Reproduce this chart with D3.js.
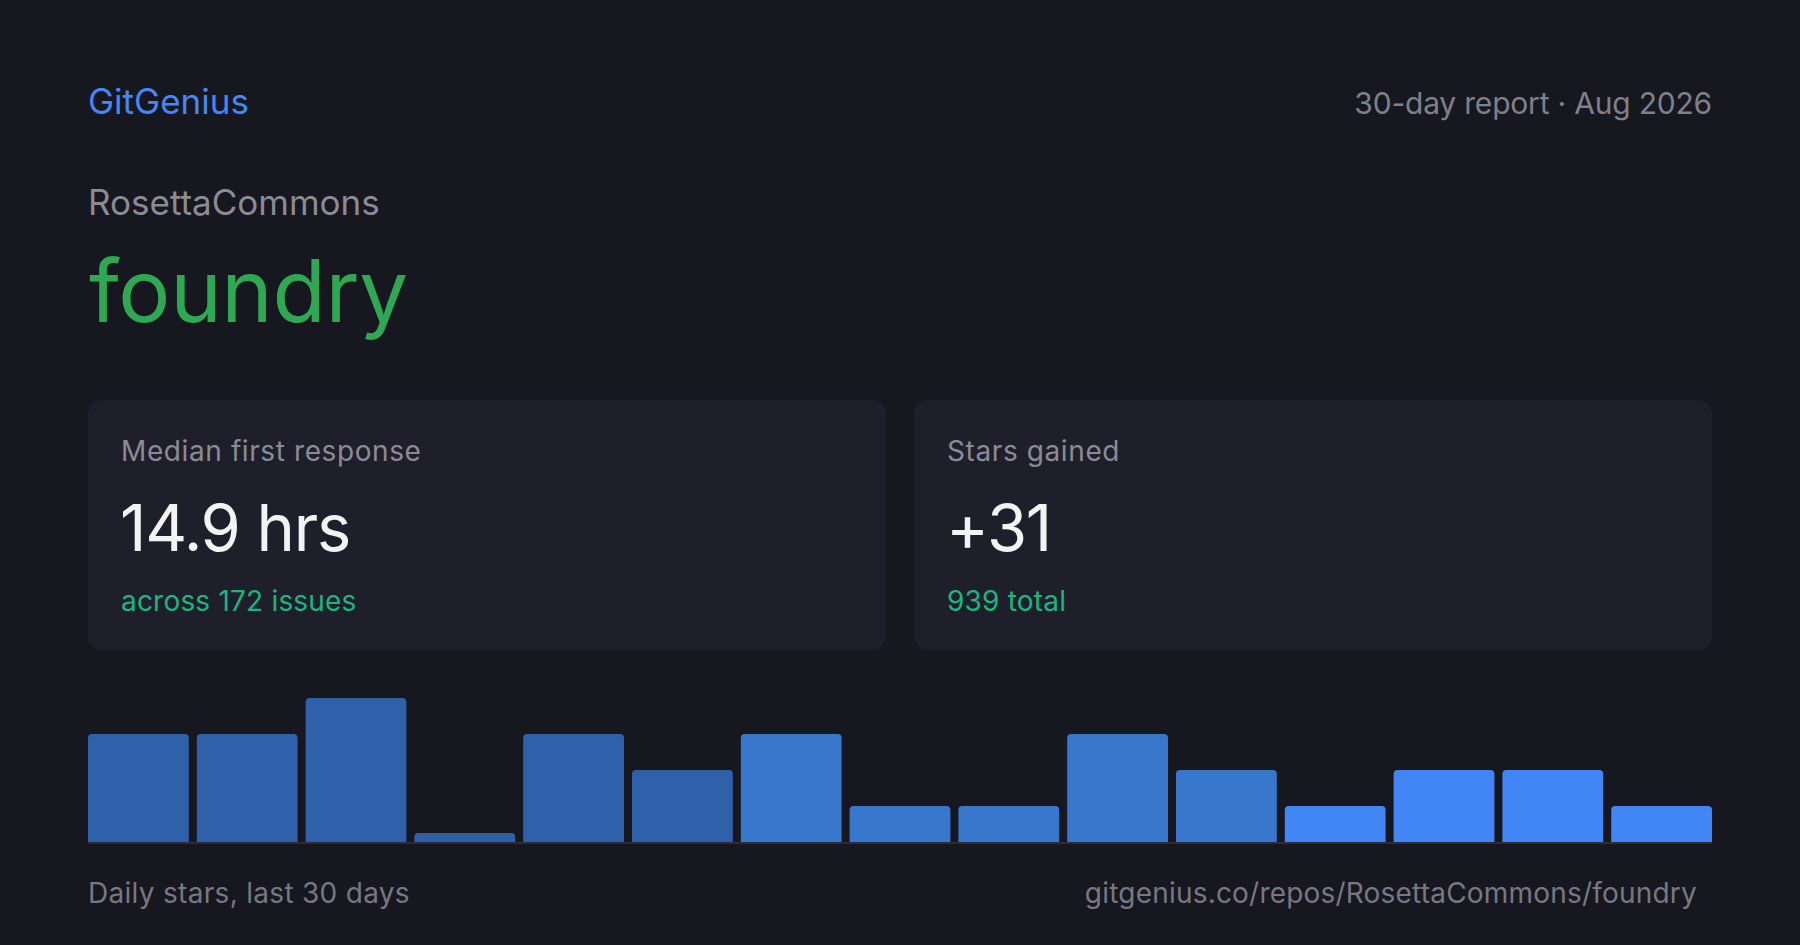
<!DOCTYPE html>
<html>
<head>
<meta charset="utf-8">
<script src="https://cdn.jsdelivr.net/npm/d3@7"></script>
<style>
  html, body { margin: 0; padding: 0; background: #16171f; }
  svg { display: block; }
  text { font-family: Inter, "Noto Sans", sans-serif; }
</style>
</head>
<body>
<svg id="chart" width="1800" height="945"></svg>
<script>
// ---- data ----
const brand = "GitGenius";
const reportLabel = "30-day report · Aug 2026";
const owner = "RosettaCommons";
const repo = "foundry";
const cardLabels = ["Median first response", "Stars gained"];
const cardValues = ["14.9 hrs", "+31"];
const cardNotes = ["across 172 issues", "939 total"];
const days = ["1","2","3","4","5","6","7","8","9","10","11","12","13","14","15"];
const dailyStars = [3, 3, 4, 0, 3, 2, 3, 1, 1, 3, 2, 1, 2, 2, 1];
const footerLeft = "Daily stars, last 30 days";
const footerRight = "gitgenius.co/repos/RosettaCommons/foundry";

// ---- layout ----
const W = 1800, H = 945;
const left = 88, right = 1712;
const svg = d3.select("#chart");

svg.append("rect").attr("width", W).attr("height", H).attr("fill", "#16171f");

const gray = "#8a8b95";

svg.append("text").attr("x", left).attr("y", 114)
  .attr("font-size", 35).attr("fill", "#4587f5").text(brand);
svg.append("text").attr("x", right).attr("y", 114).attr("text-anchor", "end")
  .attr("font-size", 30).attr("letter-spacing", -0.2).attr("fill", "#7f808a").text(reportLabel);

svg.append("text").attr("x", left).attr("y", 215)
  .attr("font-size", 35).attr("fill", gray).text(owner);
svg.append("text").attr("x", left + 1).attr("y", 322)
  .attr("font-size", 87).attr("letter-spacing", -0.3).attr("fill", "#2ea852").text(repo);

// ---- cards ----
const cardX = d3.scaleBand().domain(d3.range(cardLabels.length)).range([left, right]).paddingInner(28 / (798 + 28));
const cards = svg.selectAll("g.card").data(cardLabels).join("g")
  .attr("class", "card")
  .attr("transform", (d, i) => `translate(${cardX(i)},400)`);
cards.append("rect").attr("width", cardX.bandwidth()).attr("height", 250)
  .attr("rx", 14).attr("fill", "#1f1f2b");
cards.append("text").attr("x", 33).attr("y", 61)
  .attr("font-size", 28).attr("fill", gray).attr("letter-spacing", 0.6).text(d => d);
cards.append("text").attr("x", 32).attr("y", 151)
  .attr("font-size", 65).attr("letter-spacing", -1.3).attr("fill", "#f3f3f1").text((d, i) => cardValues[i]);
cards.append("text").attr("x", 33).attr("y", 211)
  .attr("font-size", 28).attr("letter-spacing", 0.2).attr("fill", "#1db47e").text((d, i) => cardNotes[i]);

// ---- bars ----
const baseY = 842;
const x = d3.scaleBand().domain(days).range([left, right]).paddingInner(8 / 108.8).paddingOuter(0);
const y = d3.scaleLinear().domain([0, d3.max(dailyStars)]).range([baseY, baseY - 144]);
const color = d3.scaleThreshold().domain([6, 11]).range(["#2f60aa", "#3778cc", "#4285f4"]);
const minH = 9, r = 4;

function barPath(x0, w, top) {
  const h = baseY - top;
  const rr = Math.min(r, h / 2);
  return `M${x0},${baseY}V${top + rr}Q${x0},${top} ${x0 + rr},${top}H${x0 + w - rr}Q${x0 + w},${top} ${x0 + w},${top + rr}V${baseY}Z`;
}

svg.append("g").selectAll("path").data(dailyStars).join("path")
  .attr("d", (d, i) => {
    const top = Math.min(y(d), baseY - minH);
    return barPath(x(days[i]), x.bandwidth(), top);
  })
  .attr("fill", (d, i) => color(i));

svg.append("rect").attr("x", left).attr("y", baseY).attr("width", right - left).attr("height", 2)
  .attr("fill", "#2b2c38");

// ---- footer ----
svg.append("text").attr("x", left).attr("y", 903)
  .attr("font-size", 28).attr("letter-spacing", 0.3).attr("fill", "#777882").text(footerLeft);
svg.append("text").attr("x", 1697).attr("y", 903).attr("text-anchor", "end")
  .attr("font-size", 28).attr("letter-spacing", 0.2).attr("fill", "#777882").text(footerRight);
</script>
</body>
</html>
